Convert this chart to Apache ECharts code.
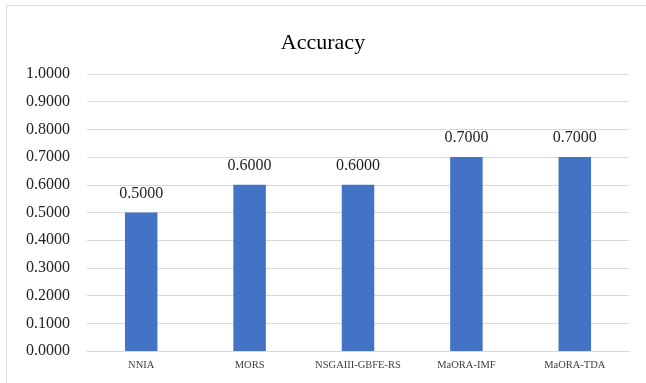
<!DOCTYPE html>
<html>
<head>
<meta charset="utf-8">
<script src="https://cdn.jsdelivr.net/npm/echarts@6/dist/echarts.min.js"></script>
<style>html,body{margin:0;padding:0;background:#fff}#c{width:646px;height:383px}</style>
</head>
<body>
<div id="c"></div>
<script>
const categories = ['NNIA', 'MORS', 'NSGAIII-GBFE-RS', 'MaORA-IMF', 'MaORA-TDA'];
const accuracy = [0.5, 0.6, 0.6, 0.7, 0.7];
const titleText = 'Accuracy';

const chart = echarts.init(document.getElementById('c'), null, {renderer: 'canvas'});
const serif = '"Liberation Serif", "DejaVu Serif", serif';
chart.setOption({
  animation: false,
  backgroundColor: '#fff',
  graphic: [{
    type: 'rect', shape: {x: 6.5, y: 5.5, width: 660, height: 400},
    style: {fill: 'none', stroke: '#d9d9d9', lineWidth: 1}, silent: true
  }],
  title: {
    text: titleText, left: 'center', top: 27,
    textStyle: {fontFamily: serif, fontSize: 22, fontWeight: 'normal', color: '#000'}
  },
  grid: {left: 87, right: 17, top: 74, bottom: 32, containLabel: false},
  xAxis: {
    type: 'category', data: categories,
    axisLine: {lineStyle: {color: '#d9d9d9', width: 1}},
    axisTick: {show: false},
    axisLabel: {interval: 0, fontFamily: serif, fontSize: 10.5, color: '#404040', margin: 9}
  },
  yAxis: {
    type: 'value', min: 0, max: 1, interval: 0.1,
    axisLine: {show: false}, axisTick: {show: false},
    splitLine: {lineStyle: {color: '#d9d9d9', width: 1}},
    axisLabel: {fontFamily: serif, fontSize: 16, color: '#222', margin: 17,
      formatter: v => v.toFixed(4)}
  },
  series: [{
    type: 'bar', data: accuracy, barWidth: '30%',
    itemStyle: {color: '#4472C4'},
    label: {show: true, position: 'top', distance: 11,
      fontFamily: serif, fontSize: 16, color: '#222',
      formatter: p => p.value.toFixed(4)}
  }]
});
</script>
</body>
</html>
